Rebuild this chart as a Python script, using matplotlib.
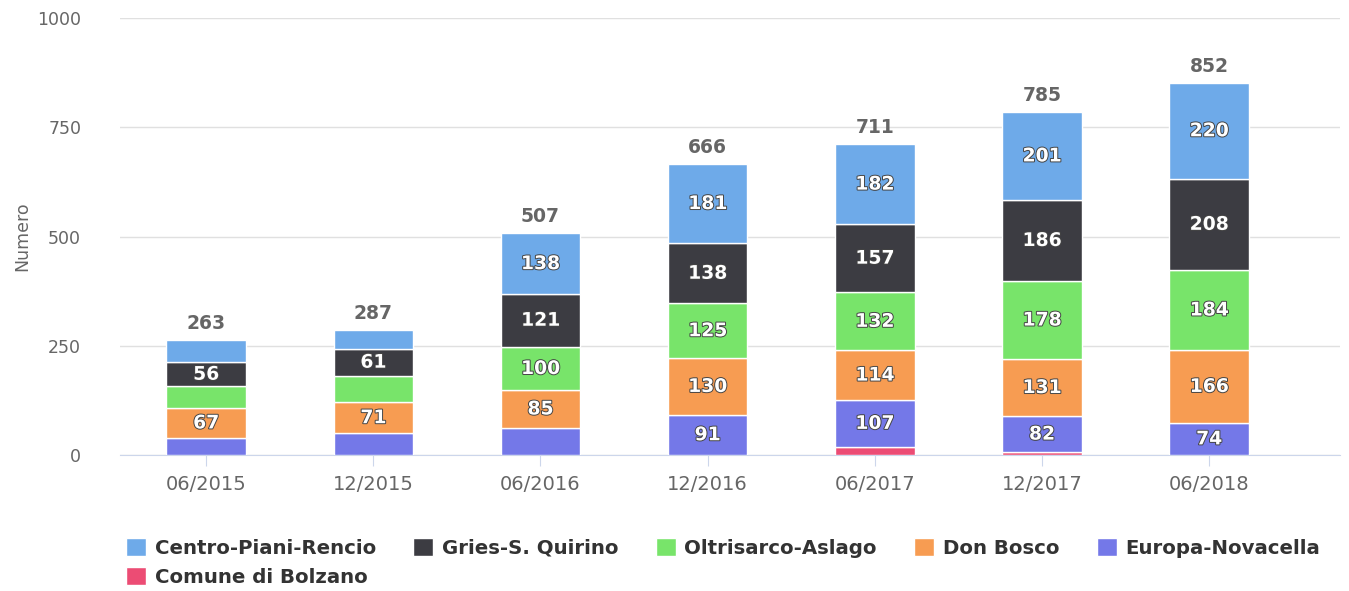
import numpy as np
import matplotlib.pyplot as plt
import matplotlib.patheffects as pe

periods = ['06/2015', '12/2015', '06/2016', '12/2016', '06/2017', '12/2017', '06/2018']

# stacked from bottom to top
comune = [0, 0, 0, 1, 19, 7, 0]
europa = [40, 50, 63, 91, 107, 82, 74]
don_bosco = [67, 71, 85, 130, 114, 131, 166]
oltrisarco = [50, 61, 100, 125, 132, 178, 184]
gries = [56, 61, 121, 138, 157, 186, 208]
centro = [50, 44, 138, 181, 182, 201, 220]

series_names = ['Comune di Bolzano', 'Europa-Novacella', 'Don Bosco',
                'Oltrisarco-Aslago', 'Gries-S. Quirino', 'Centro-Piani-Rencio']
series_vals = [comune, europa, don_bosco, oltrisarco, gries, centro]
series_cols = ['#ec4c74', '#7478e8', '#f79c52', '#78e46a', '#3c3c42', '#6eaae9']

# segment labels that the original chart leaves out (series index, period index)
hidden = {(1, 0), (1, 1), (1, 2), (3, 0), (3, 1), (5, 0), (5, 1)}

fig = plt.figure(figsize=(13.49, 5.91), dpi=100)
ax = fig.add_axes([0.089, 0.230, 0.904, 0.7395])

x = np.arange(len(periods))
bottom = np.zeros(len(periods))
bars = {}
for si, (name, vals, col) in enumerate(zip(series_names, series_vals, series_cols)):
    vals = np.array(vals, dtype=float)
    b = ax.bar(x, vals, 0.475, bottom=bottom, color=col, edgecolor='white',
               linewidth=1.0, label=name, zorder=3)
    bars[name] = b
    for i, v in enumerate(vals):
        if v >= 40 and (si, i) not in hidden:
            ax.text(x[i], bottom[i] + v / 2, f'{int(v)}', ha='center', va='center',
                    color='white', fontsize=13.5, fontweight='bold', zorder=4,
                    path_effects=[pe.withStroke(linewidth=1.4, foreground='#444444')])
    bottom += vals

for i, t in enumerate(bottom):
    ax.text(x[i], t + 16, f'{int(t)}', ha='center', va='bottom', color='#666666',
            fontsize=13.5, fontweight='bold', zorder=4)

ax.set_xlim(-0.515, 6.78)
ax.set_ylim(0, 1000)
ax.set_yticks([0, 250, 500, 750, 1000])
ax.yaxis.grid(True, color='#e0e0e0', linewidth=1.0, zorder=0)
ax.set_axisbelow(True)
for s in ['top', 'right', 'left']:
    ax.spines[s].set_visible(False)
ax.spines['bottom'].set_color('#ccd6eb')
ax.tick_params(axis='y', length=0, labelsize=12.5, labelcolor='#666666', pad=28)
ax.tick_params(axis='x', length=8, color='#ccd6eb', labelsize=14, labelcolor='#666666', pad=6)
ax.set_xticks(x)
ax.set_xticklabels(periods)
ax.set_ylabel('Numero', color='#666666', fontsize=12.5, labelpad=4)

order = ['Centro-Piani-Rencio', 'Comune di Bolzano', 'Gries-S. Quirino',
         'Oltrisarco-Aslago', 'Don Bosco', 'Europa-Novacella']
leg = fig.legend([bars[n] for n in order], order, ncol=5, loc='upper left',
                 bbox_to_anchor=(0.0875, 0.103), frameon=False,
                 prop={'weight': 'bold', 'size': 14.2},
                 handlelength=1.0, handleheight=1.0, handletextpad=0.45,
                 columnspacing=1.9, labelspacing=0.5, borderaxespad=0)
for t in leg.get_texts():
    t.set_color('#333333')

fig.savefig('out.png', dpi=100)
